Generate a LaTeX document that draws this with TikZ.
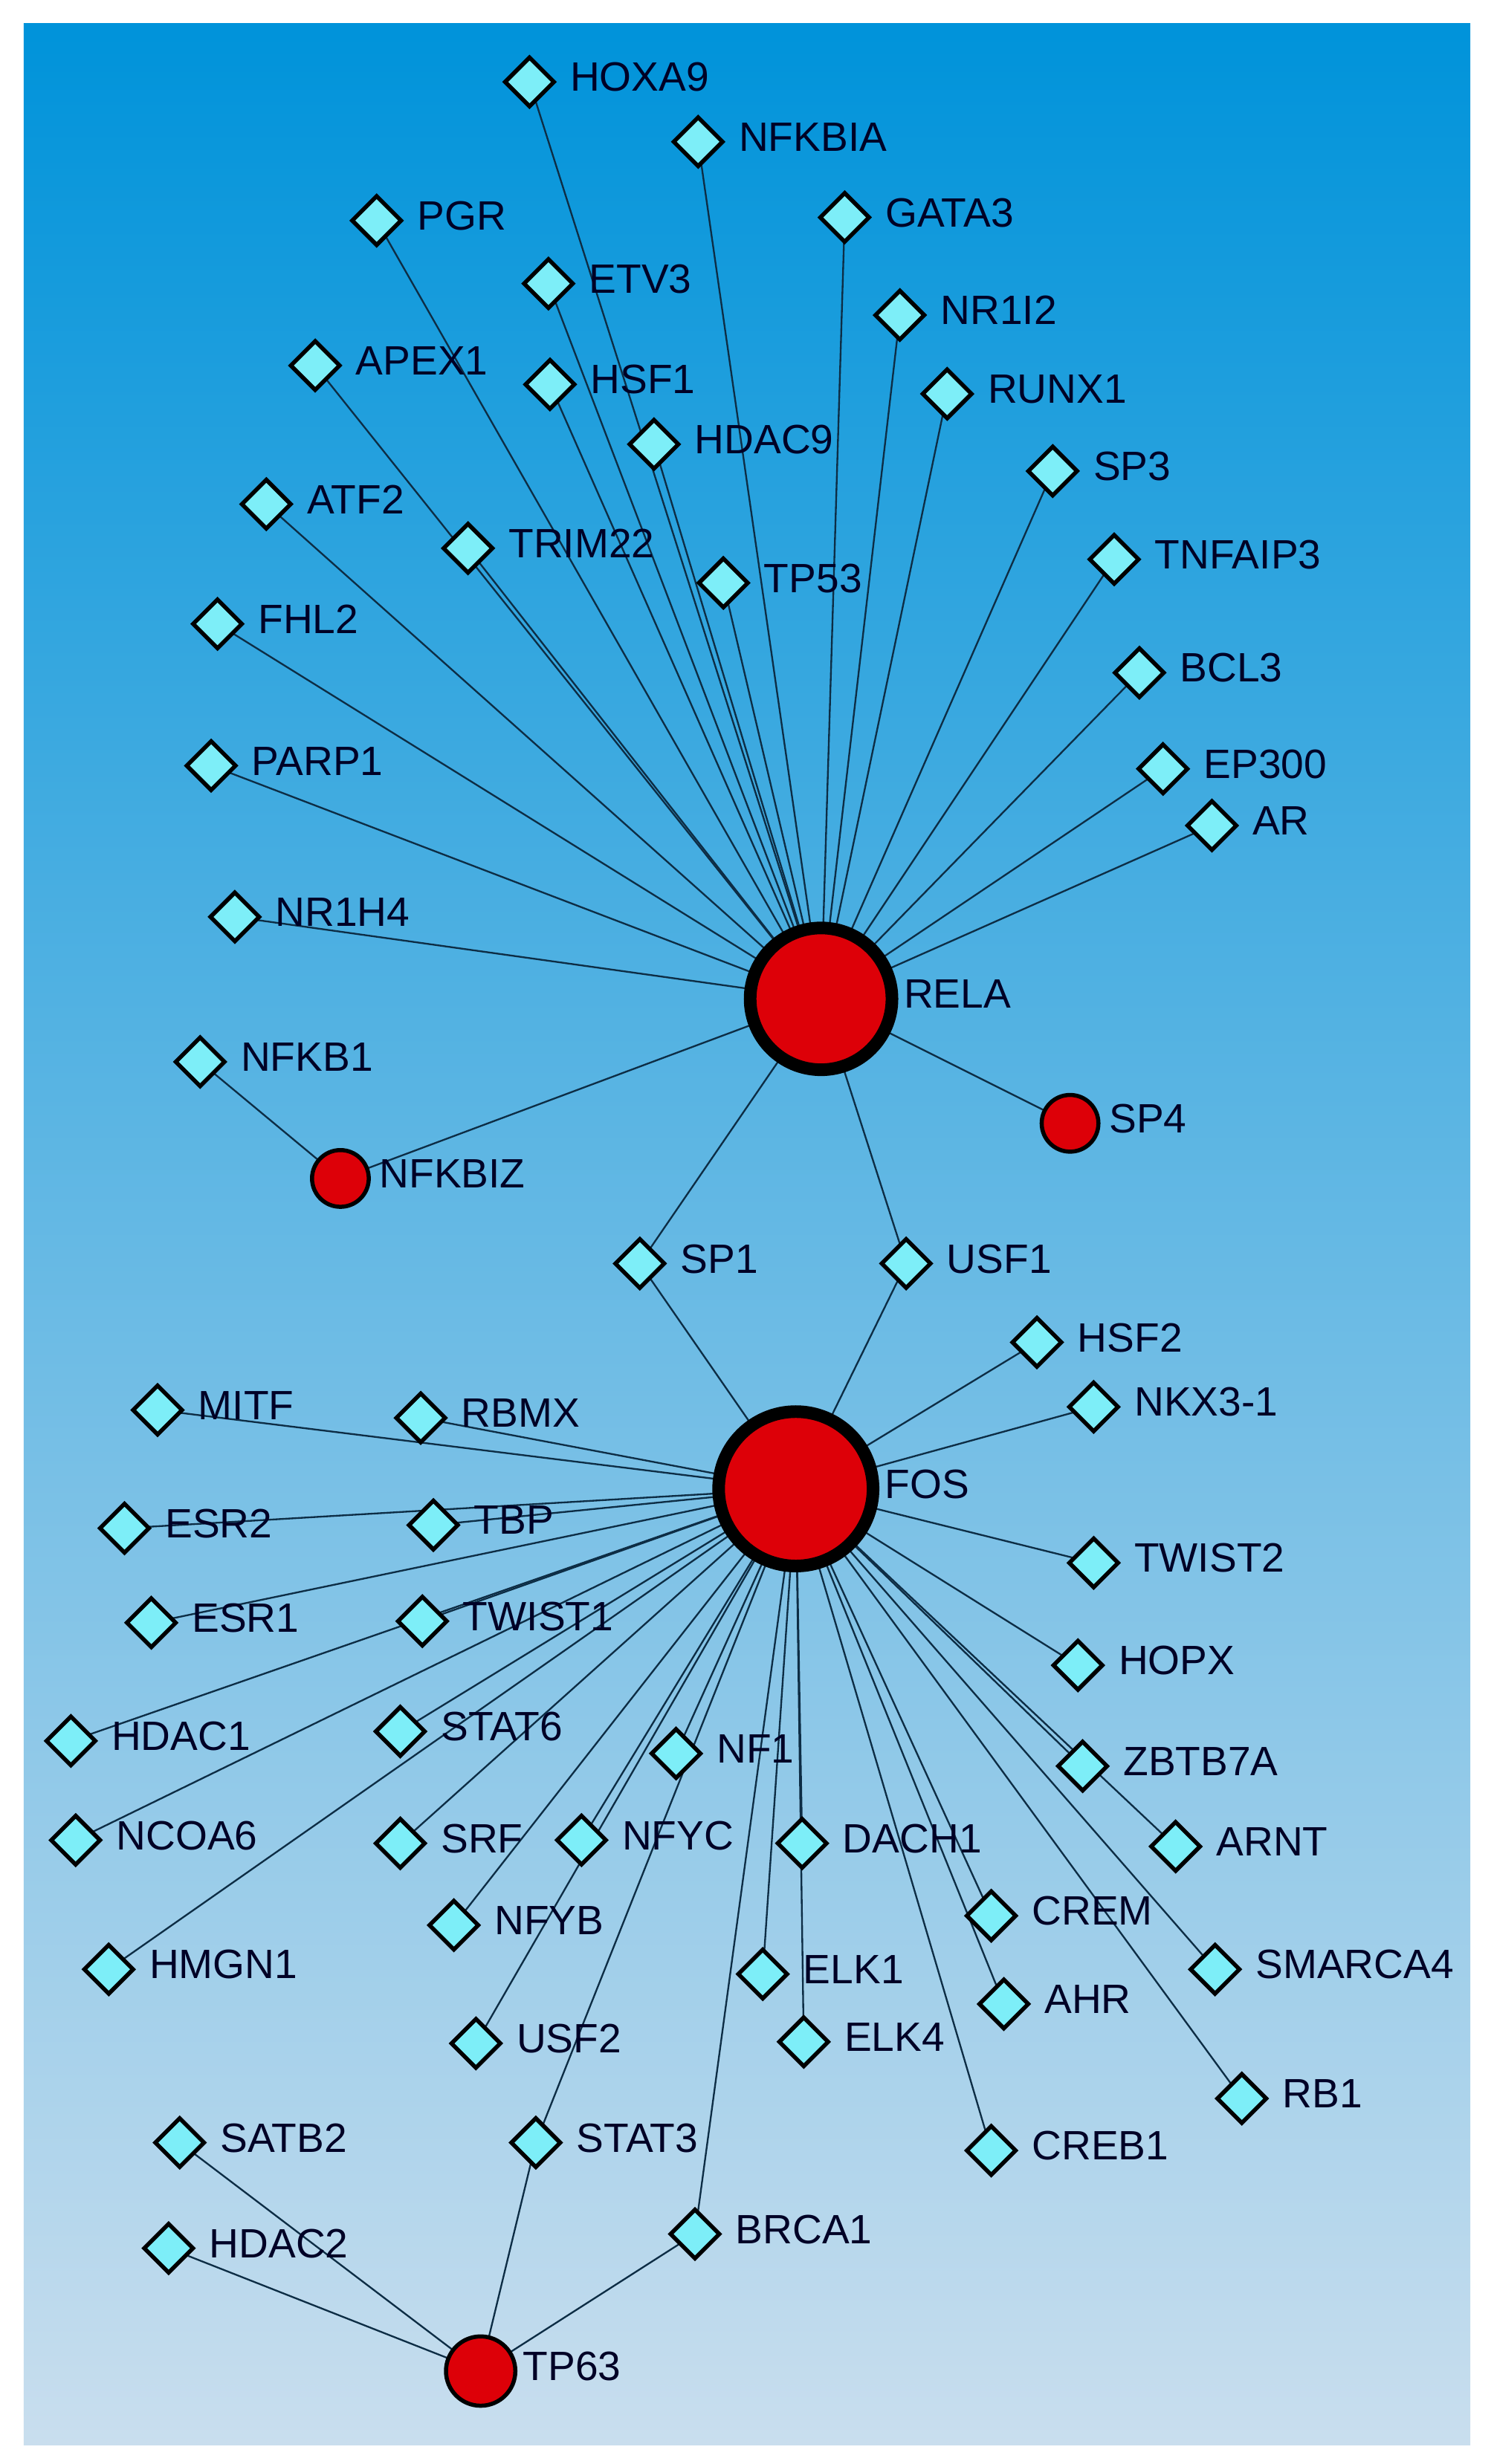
\documentclass[tikz,border=0pt]{standalone}
\usepackage{fontspec}
\setmainfont{Liberation Sans}
\usetikzlibrary{shapes.geometric}
\definecolor{bgtop}{HTML}{0093DA}
\definecolor{bgbot}{HTML}{C9DEEE}
\definecolor{dia}{HTML}{7DEEF8}
\definecolor{redn}{HTML}{DD0008}
\definecolor{edge}{HTML}{0D2D45}
\tikzset{
 lbl/.style={font=\fontsize{26}{28}\selectfont,text=black!85!blue},
 dnode/.style={diamond,draw=black,line width=2.6pt,fill=dia,minimum size=32pt,inner sep=0pt,
   label={[lbl,xshift=5pt,yshift=3pt]right:#1}},
 bignode/.style={circle,draw=black,line width=8pt,fill=redn,minimum size=#1,inner sep=0pt},
 smallnode/.style={circle,draw=black,line width=2.6pt,fill=redn,minimum size=#1,inner sep=0pt},
 ed/.style={draw=edge,line width=1.1pt}
}
\begin{document}
\begin{tikzpicture}[x=1pt,y=-1pt]
\useasboundingbox (0,0) rectangle (948,1564);
\fill[white] (0,0) rectangle (948,1564);
\shade[top color=bgtop,bottom color=bgbot] (15,15) rectangle (933,1552);
\foreach \n/\x/\y in {HOXA9/336/52,NFKBIA/443/90,PGR/239/140,GATA3/536/138,ETV3/348/180,NR1I2/571/200,
 APEX1/200/232,HSF1/349/244,RUNX1/601/250,HDAC9/415/282,SP3/668/299,ATF2/169/320,TRIM22/297/348,
 TP53/459/370,TNFAIP3/707/355,FHL2/138/396,BCL3/723/427,PARP1/134/486,EP300/738/488,AR/769/524,
 NR1H4/149/582,NFKB1/127/674,SP1/406/802,USF1/575/802,HSF2/658/852,NKX3-1/694/893,MITF/100/895,
 RBMX/267/900,ESR2/79/970,TBP/275/968,TWIST2/694/992,ESR1/96/1030,TWIST1/268/1029,HOPX/684/1057,
 HDAC1/45/1105,STAT6/254/1099,NF1/429/1113,ZBTB7A/687/1121,NCOA6/48/1168,SRF/254/1170,NFYC/369/1168,
 DACH1/509/1170,ARNT/746/1172,CREM/629/1216,HMGN1/69/1250,NFYB/288/1222,ELK1/484/1253,
 SMARCA4/771/1250,AHR/637/1272,USF2/302/1297,ELK4/510/1296,RB1/788/1332,SATB2/114/1360,
 STAT3/340/1360,CREB1/629/1365,HDAC2/107/1427,BRCA1/441/1418}
 {\coordinate (\n) at (\x,\y);}
\coordinate (RELA) at (521,634);
\coordinate (FOS) at (505,945);
\coordinate (NFKBIZ) at (216,748);
\coordinate (SP4) at (679,713);
\coordinate (TP63) at (305,1505);
\foreach \t in {HOXA9,NFKBIA,PGR,GATA3,ETV3,NR1I2,APEX1,HSF1,RUNX1,HDAC9,SP3,ATF2,TRIM22,TP53,TNFAIP3,
 FHL2,BCL3,PARP1,EP300,AR,NR1H4,NFKBIZ,SP4,SP1,USF1}
 {\draw[ed] (RELA) -- (\t);}
\draw[ed] (NFKB1) -- (NFKBIZ);
\foreach \t in {SP1,USF1,HSF2,NKX3-1,MITF,RBMX,ESR2,TBP,TWIST2,ESR1,TWIST1,HOPX,HDAC1,STAT6,NF1,ZBTB7A,
 NCOA6,SRF,NFYC,DACH1,ARNT,CREM,HMGN1,NFYB,ELK1,SMARCA4,AHR,USF2,ELK4,RB1,CREB1,BRCA1,STAT3}
 {\draw[ed] (FOS) -- (\t);}
\foreach \t in {SATB2,HDAC2,STAT3,BRCA1} {\draw[ed] (TP63) -- (\t);}
\foreach \n in {HOXA9,NFKBIA,PGR,GATA3,ETV3,NR1I2,APEX1,HSF1,RUNX1,HDAC9,SP3,ATF2,TRIM22,TP53,TNFAIP3,
 FHL2,BCL3,PARP1,EP300,AR,NR1H4,NFKB1,SP1,USF1,HSF2,NKX3-1,MITF,RBMX,ESR2,TBP,TWIST2,ESR1,TWIST1,HOPX,
 HDAC1,STAT6,NF1,ZBTB7A,NCOA6,SRF,NFYC,DACH1,ARNT,CREM,HMGN1,NFYB,ELK1,SMARCA4,AHR,USF2,ELK4,RB1,
 SATB2,STAT3,CREB1,HDAC2,BRCA1}
 {\node[dnode=\n] (d-\n) at (\n) {};}
\node[bignode=90pt] (nRELA) at (RELA) {};
\node[lbl,anchor=west] at ([xshift=0pt,yshift=3pt]nRELA.east) {RELA};
\node[bignode=98pt] (nFOS) at (FOS) {};
\node[lbl,anchor=west] at ([xshift=0pt,yshift=3pt]nFOS.east) {FOS};
\node[smallnode=36pt,label={[lbl,xshift=2pt,yshift=3pt]right:NFKBIZ}] (nNFKBIZ) at (NFKBIZ) {};
\node[smallnode=36pt,label={[lbl,xshift=2pt,yshift=3pt]right:SP4}] (nSP4) at (SP4) {};
\node[smallnode=44pt,label={[lbl,xshift=0pt,yshift=3pt]right:TP63}] (nTP63) at (TP63) {};
\end{tikzpicture}
\end{document}
